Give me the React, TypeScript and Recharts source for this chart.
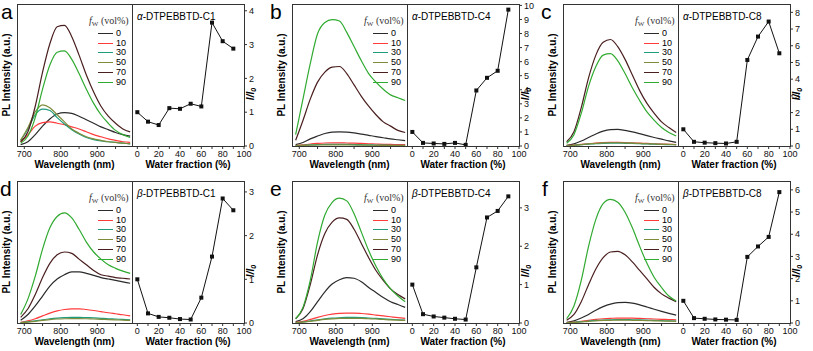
import React from "react";
import { LineChart, Line, XAxis, YAxis } from "recharts";

const FONT = '"Liberation Sans", Arial, Helvetica, sans-serif';
const SERIF = '"Liberation Serif", "Times New Roman", serif';

const wavelengths = [690, 710, 730, 750, 770, 790, 810, 830, 850, 870, 890, 910, 930, 950, 970, 990];
const fwLabels = ["0", "10", "30", "50", "70", "90"];
const fwColors = ["#2b2b2b", "#ff3b3b", "#1f9c7c", "#7f8c3c", "#4a1f1f", "#30aa30"];
const waterFraction = [0, 10, 20, 30, 40, 50, 60, 70, 80, 90];

// PL spectra in % of box height, rows are fw = 0/10/30/50/70/90 vol%
const spectraA = [
  [1, 3, 8, 14, 19, 22.5, 23.5, 23, 21, 18.5, 16, 13.5, 11.5, 9.5, 8, 7],
  [3, 8, 14, 16.5, 17, 16, 15, 13.5, 12, 10, 8, 6.5, 5, 4, 3, 2.5],
  [4, 12, 22, 26, 25, 20, 15.5, 11.5, 8.5, 6, 4.5, 3.5, 3, 2.5, 2, 1.5],
  [4, 13, 24, 29, 27, 22, 17, 12, 9, 6.5, 5, 4, 3, 2.5, 2, 1.5],
  [3, 10, 28, 52, 72, 84, 85, 77, 64, 50, 38, 28, 21, 16, 12, 10],
  [2, 7, 20, 40, 57, 66, 67, 61, 51, 40, 30, 22, 16, 11, 8, 6],
];
const spectraB = [
  [1, 2.5, 5, 7, 8.8, 9.8, 10, 9.8, 9.2, 8.4, 7.5, 6.6, 5.8, 5, 4.4, 3.8],
  [0.3, 0.8, 1.4, 1.8, 2.1, 2.2, 2.2, 2.1, 2, 1.8, 1.6, 1.4, 1.2, 1.1, 1, 0.9],
  [0.2, 0.5, 0.8, 1, 1.1, 1.2, 1.2, 1.1, 1, 0.9, 0.8, 0.7, 0.6, 0.5, 0.5, 0.4],
  [0.2, 0.4, 0.6, 0.7, 0.8, 0.8, 0.8, 0.8, 0.7, 0.6, 0.6, 0.5, 0.4, 0.4, 0.3, 0.3],
  [4, 18, 33, 45, 52, 55.5, 56, 51, 43, 35, 28, 22, 17, 14, 11, 9.5],
  [8, 33, 58, 79, 87, 89, 88, 80, 70, 60, 51, 45, 40, 36, 34, 32],
];
const spectraC = [
  [0.5, 1.5, 3.5, 6, 8.5, 10.5, 11.5, 11.7, 11, 10, 8.7, 7.3, 6, 4.8, 3.6, 2.5],
  [0.2, 0.6, 1.1, 1.6, 2.1, 2.4, 2.5, 2.5, 2.4, 2.2, 2, 1.8, 1.6, 1.4, 1.2, 1],
  [0.2, 0.5, 0.9, 1.3, 1.7, 1.9, 2, 2, 1.9, 1.8, 1.6, 1.4, 1.3, 1.1, 1, 0.9],
  [0.2, 0.5, 1, 1.5, 1.9, 2.2, 2.3, 2.3, 2.2, 2, 1.8, 1.6, 1.4, 1.2, 1.1, 1],
  [3, 10, 27, 48, 64, 73, 75, 70, 61, 50, 39, 30, 23, 17, 13, 9.5],
  [2, 8, 23, 42, 56, 64, 65, 60, 51, 41, 32, 24, 18, 13, 9.5, 7],
];
const spectraD = [
  [2, 6, 12, 19, 26, 31, 34, 36, 36, 35, 33.5, 32, 31, 30, 29, 28],
  [0.5, 1.5, 3, 5, 7, 8.5, 9.5, 10, 10, 9.5, 8.8, 8, 7.2, 6.5, 5.8, 5],
  [0.3, 0.8, 1.5, 2.3, 3, 3.5, 3.8, 4, 4, 3.8, 3.6, 3.3, 3, 2.8, 2.5, 2.3],
  [0.3, 0.6, 1.2, 1.8, 2.4, 2.8, 3, 3.1, 3.1, 3, 2.8, 2.6, 2.4, 2.2, 2, 1.8],
  [4, 10, 20, 32, 42, 48, 50, 49, 45, 41, 37, 34, 33, 32, 31.5, 31],
  [6, 17, 33, 52, 67, 75, 77.5, 74, 66, 57, 50, 45, 41, 38.5, 36.5, 35],
];
const spectraE = [
  [1, 3, 8, 15, 22, 27.5, 30.5, 32, 31.5, 29, 25, 21.5, 18, 15, 13, 11],
  [0.5, 1.2, 2.5, 4, 5.3, 6.2, 6.8, 7, 7, 6.7, 6.2, 5.6, 5, 4.4, 3.8, 3.3],
  [0.3, 0.7, 1.4, 2.2, 2.9, 3.4, 3.7, 3.9, 3.9, 3.8, 3.5, 3.2, 2.9, 2.6, 2.3, 2],
  [0.3, 0.6, 1.2, 1.9, 2.5, 2.9, 3.2, 3.3, 3.3, 3.2, 3, 2.8, 2.5, 2.2, 2, 1.8],
  [3, 10, 27, 48, 63, 71, 74, 73, 66, 56, 46, 37, 30, 24, 20, 17],
  [3, 11, 30, 57, 76, 85, 88, 86, 77, 64, 51, 40, 31, 24, 19, 15],
];
const spectraF = [
  [0.5, 1.5, 3.5, 6, 9, 11.5, 13.3, 14.3, 14.5, 14, 12.8, 11.3, 9.7, 8.2, 6.8, 5.5],
  [0.2, 0.6, 1.2, 1.9, 2.5, 3, 3.3, 3.5, 3.5, 3.4, 3.2, 3, 2.8, 2.6, 2.4, 2.2],
  [0.2, 0.5, 0.9, 1.4, 1.8, 2.1, 2.3, 2.4, 2.4, 2.3, 2.2, 2, 1.8, 1.7, 1.5, 1.4],
  [0.2, 0.4, 0.8, 1.2, 1.5, 1.8, 1.9, 2, 2, 1.9, 1.8, 1.7, 1.5, 1.4, 1.3, 1.2],
  [2, 6, 15, 27, 38, 46, 50, 50.5, 48, 43, 37, 31, 25, 20.5, 17.5, 15],
  [3, 12, 30, 54, 73, 84, 87, 85, 78, 67, 54, 42, 32, 25, 19, 15.5],
];

// I/I0 vs water fraction
const ratioA = [1.0, 0.72, 0.62, 1.12, 1.1, 1.25, 1.17, 3.65, 3.1, 2.88];
const ratioB = [1.0, 0.22, 0.18, 0.15, 0.22, 0.08, 3.95, 4.85, 5.35, 9.7];
const ratioC = [1.0, 0.25, 0.2, 0.17, 0.15, 0.25, 5.15, 6.55, 7.45, 5.55];
const ratioD = [1.0, 0.22, 0.14, 0.12, 0.09, 0.08, 0.58, 1.52, 2.85, 2.58];
const ratioE = [1.0, 0.23, 0.17, 0.14, 0.11, 0.09, 1.45, 2.75, 2.92, 3.3];
const ratioF = [1.0, 0.22, 0.19, 0.16, 0.15, 0.14, 2.98, 3.45, 3.88, 5.9];

const BOX_T = 4;
const BOX_B = 146;
const SPEC_L = 17;
const DIV = 132;
const RIGHT = 244;

const tickStyle = { fontSize: 9, fill: "#111", fontFamily: FONT };

const renderSquare = (p: any) => {
  if (p.cx == null || p.cy == null) return <g key={`e${p.index}`} />;
  return <rect key={`d${p.index}`} x={p.cx - 2} y={p.cy - 2} width={4} height={4} fill="#111" />;
};

interface PanelProps {
  left: number;
  top: number;
  letter: string;
  letterX: number;
  prefix: string;
  suffix: string;
  spectra: number[][];
  ratio: number[];
  ratioMax: number;
  ratioTicks: number[];
}

function Panel({ left, top, letter, letterX, prefix, suffix, spectra, ratio, ratioMax, ratioTicks }: PanelProps) {
  const specRows = wavelengths.map((w, i) => {
    const row: Record<string, number> = { w };
    spectra.forEach((s, k) => {
      row["f" + fwLabels[k]] = s[i];
    });
    return row;
  });
  const ratioRows = waterFraction.map((f, i) => ({ f, r: ratio[i] }));

  return (
    <div style={{ position: "absolute", left, top, width: 275, height: 175, fontFamily: FONT }}>
      <div style={{ position: "absolute", left: letterX, top: 1, fontSize: 21, lineHeight: "22px" }}>{letter}</div>

      <div style={{ position: "absolute", left: 0, top: 0 }}>
        <LineChart width={DIV + 2} height={175} data={specRows} margin={{ top: BOX_T, left: SPEC_L, right: 2, bottom: 175 - BOX_B - 20 }}>
          <XAxis
            dataKey="w"
            type="number"
            domain={[680, 995]}
            ticks={[700, 750, 800, 850, 900, 950]}
            tickFormatter={(v: number) => (v % 100 === 0 ? String(v) : "")}
            interval={0}
            axisLine={false}
            tickSize={3}
            tickLine={{ stroke: "#333" }}
            tick={tickStyle}
            height={20}
            allowDataOverflow
          />
          <YAxis hide type="number" domain={[0, 100]} allowDataOverflow />
          {spectra.map((_, k) => (
            <Line
              key={k}
              dataKey={"f" + fwLabels[k]}
              type="monotone"
              stroke={fwColors[k]}
              strokeWidth={1.2}
              dot={false}
              isAnimationActive={false}
            />
          ))}
        </LineChart>
      </div>

      <div style={{ position: "absolute", left: DIV, top: 0 }}>
        <LineChart width={RIGHT - DIV + 20} height={175} data={ratioRows} margin={{ top: BOX_T, left: 0, right: 0, bottom: 175 - BOX_B - 20 }}>
          <XAxis
            dataKey="f"
            type="number"
            domain={[-5, 100]}
            ticks={[0, 10, 20, 30, 40, 50, 60, 70, 80, 90, 100]}
            tickFormatter={(v: number) => (v % 20 === 0 ? String(v) : "")}
            interval={0}
            axisLine={false}
            tickSize={3}
            tickLine={{ stroke: "#333" }}
            tick={tickStyle}
            height={20}
            allowDataOverflow
          />
          <YAxis
            orientation="right"
            type="number"
            domain={[0, ratioMax]}
            ticks={ratioTicks}
            interval={0}
            width={20}
            axisLine={false}
            tickSize={3}
            tickLine={{ stroke: "#333" }}
            tick={tickStyle}
            allowDataOverflow
          />
          <Line dataKey="r" type="linear" stroke="#111" strokeWidth={1} dot={renderSquare} isAnimationActive={false} />
        </LineChart>
      </div>

      {/* frame + divider */}
      <div
        style={{
          position: "absolute",
          left: SPEC_L,
          top: BOX_T,
          width: RIGHT - SPEC_L + 1,
          height: BOX_B - BOX_T + 1,
          border: "1px solid #333",
          boxSizing: "border-box",
        }}
      />
      <div style={{ position: "absolute", left: DIV, top: BOX_T, width: 1, height: BOX_B - BOX_T, background: "#333" }} />

      <div style={{ position: "absolute", left: DIV + 5, top: BOX_T + 7, fontSize: 10, lineHeight: "12px", whiteSpace: "nowrap" }}>
        <i>{prefix}</i>-DTPEBBTD-{suffix}
      </div>

      {/* legend */}
      <div style={{ position: "absolute", left: 89, top: 15, fontSize: 10, lineHeight: "11px", fontFamily: SERIF, whiteSpace: "nowrap", color: "#333" }}>
        <i>f</i>
        <span style={{ fontSize: 7, verticalAlign: -2 }}>W</span> (vol%)
      </div>
      {fwLabels.map((lab, k) => (
        <React.Fragment key={lab}>
          <div style={{ position: "absolute", left: 98, top: Math.round(33 + k * 9.7), width: 15, height: 1.4, background: fwColors[k] }} />
          <div style={{ position: "absolute", left: 116, top: Math.round(33 + k * 9.7) - 5, fontSize: 9, lineHeight: "10px" }}>{lab}</div>
        </React.Fragment>
      ))}

      {/* axis titles */}
      <div
        style={{
          position: "absolute",
          left: 7 - 70,
          top: (BOX_T + BOX_B) / 2 - 6,
          width: 140,
          height: 12,
          lineHeight: "12px",
          textAlign: "center",
          fontSize: 10,
          fontWeight: "bold",
          transform: "rotate(-90deg)",
          whiteSpace: "nowrap",
        }}
      >
        PL Intensity (a.u.)
      </div>
      <div style={{ position: "absolute", left: SPEC_L, top: 159, width: DIV - SPEC_L, textAlign: "center", fontSize: 10, fontWeight: "bold", lineHeight: "12px" }}>
        Wavelength (nm)
      </div>
      <div style={{ position: "absolute", left: DIV, top: 159, width: RIGHT - DIV, textAlign: "center", fontSize: 10, fontWeight: "bold", lineHeight: "12px" }}>
        Water fraction (%)
      </div>
      <div
        style={{
          position: "absolute",
          left: RIGHT + 7 - 15,
          top: BOX_T + 90 - 6,
          width: 30,
          height: 12,
          lineHeight: "12px",
          textAlign: "center",
          fontSize: 10,
          fontWeight: "bold",
          fontStyle: "italic",
          transform: "rotate(-90deg)",
          whiteSpace: "nowrap",
        }}
      >
        I/I<span style={{ fontSize: 7, verticalAlign: -2 }}>0</span>
      </div>
    </div>
  );
}

export default function App() {
  return (
    <div style={{ position: "absolute", left: 0, top: 0, width: 813, height: 351, background: "#fff", overflow: "hidden" }}>
      <Panel left={0} top={0} letter="a" letterX={1} prefix="α" suffix="C1" spectra={spectraA} ratio={ratioA} ratioMax={4.2} ratioTicks={[0, 1, 2, 3, 4]} />
      <Panel left={275} top={0} letter="b" letterX={-5} prefix="α" suffix="C4" spectra={spectraB} ratio={ratioB} ratioMax={10.1} ratioTicks={[0, 1, 2, 3, 4, 5, 6, 7, 8, 9, 10]} />
      <Panel left={546} top={0} letter="c" letterX={-5} prefix="α" suffix="C8" spectra={spectraC} ratio={ratioC} ratioMax={8.5} ratioTicks={[0, 1, 2, 3, 4, 5, 6, 7, 8]} />
      <Panel left={0} top={177} letter="d" letterX={0} prefix="β" suffix="C1" spectra={spectraD} ratio={ratioD} ratioMax={3.25} ratioTicks={[0, 1, 2, 3]} />
      <Panel left={275} top={177} letter="e" letterX={-5} prefix="β" suffix="C4" spectra={spectraE} ratio={ratioE} ratioMax={3.7} ratioTicks={[0, 1, 2, 3]} />
      <Panel left={546} top={177} letter="f" letterX={-4} prefix="β" suffix="C8" spectra={spectraF} ratio={ratioF} ratioMax={6.4} ratioTicks={[0, 1, 2, 3, 4, 5, 6]} />
    </div>
  );
}
